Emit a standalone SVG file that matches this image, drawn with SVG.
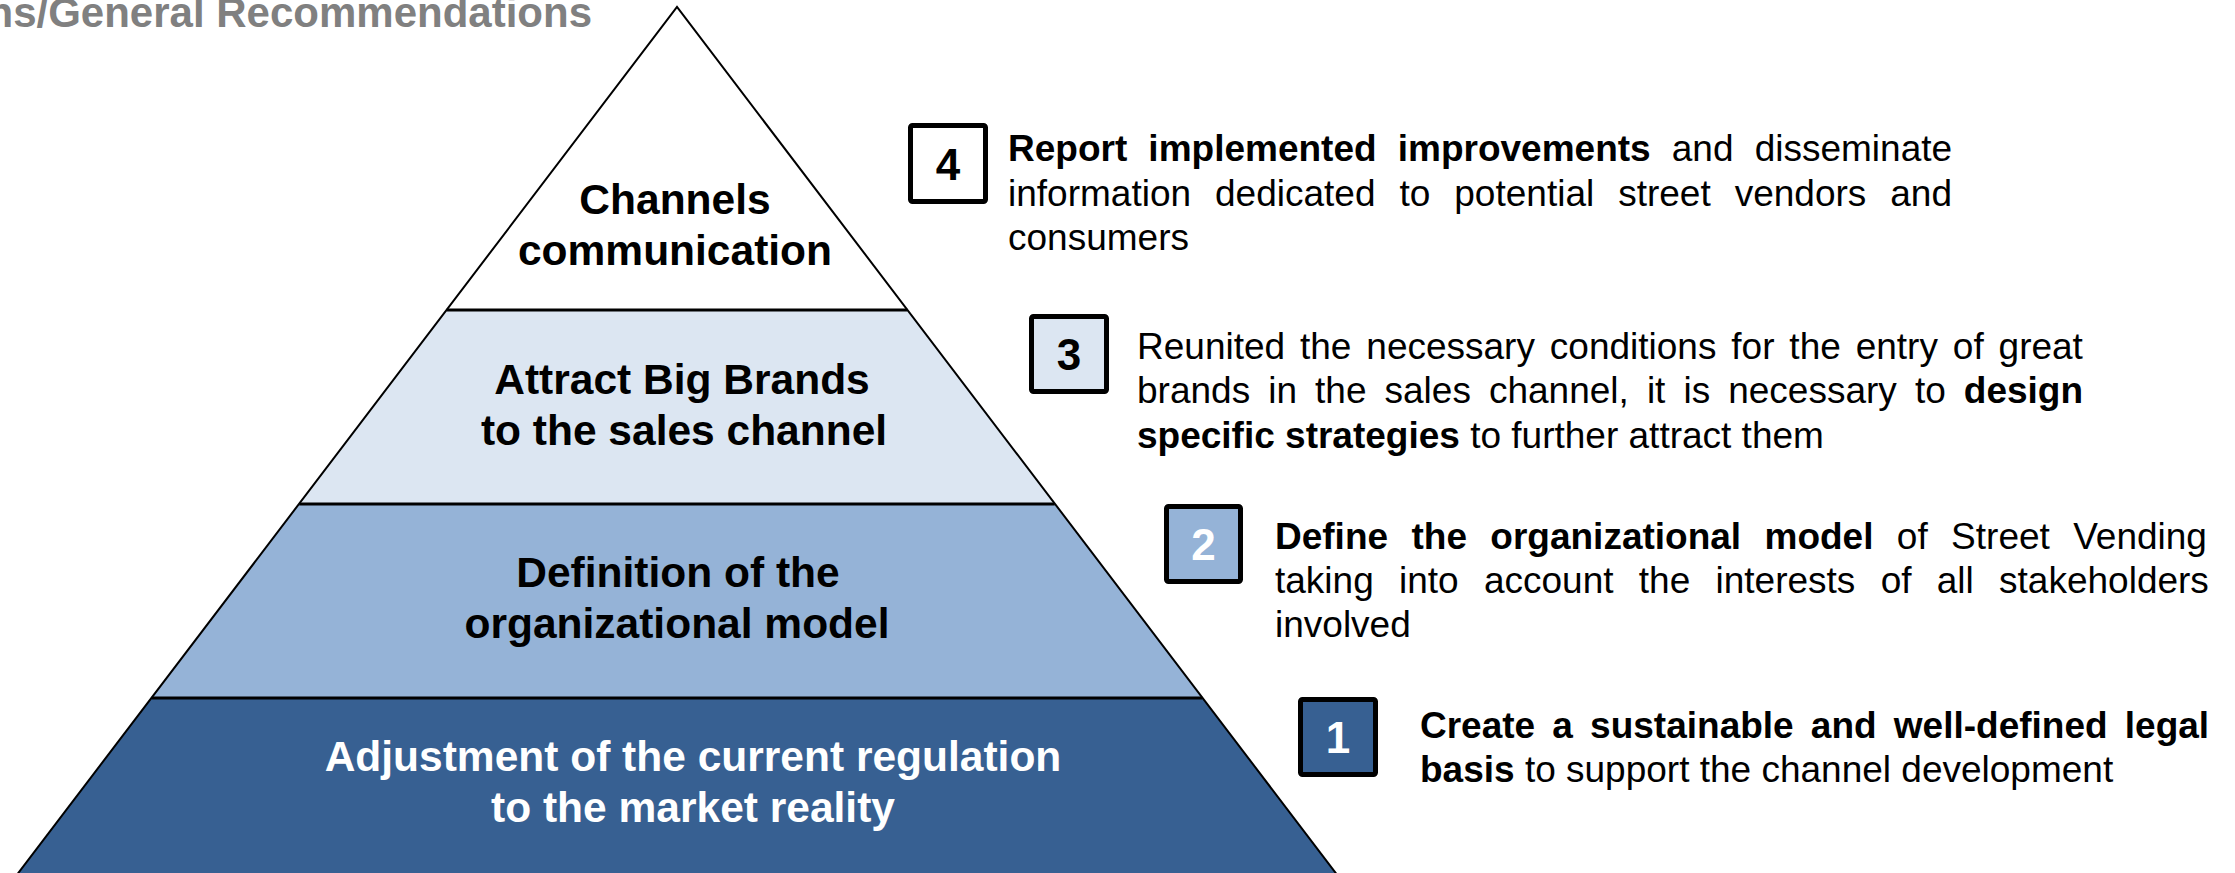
<svg xmlns="http://www.w3.org/2000/svg" width="2235" height="873" viewBox="0 0 2235 873">
<style>
.lbl{font-family:"Liberation Sans",Arial,sans-serif;font-weight:bold;font-size:42.5px;text-anchor:middle}
.num{font-family:"Liberation Sans",Arial,sans-serif;font-weight:bold;font-size:44px;text-anchor:middle}
.body{font-family:"Liberation Sans",Arial,sans-serif;font-size:37px;fill:#000}
.b{font-weight:bold}
.box{stroke:#000;stroke-width:5}
.tierline{stroke:#000;stroke-width:3}
</style>
<rect width="2235" height="873" fill="#fff"/>
<text x="592" y="27" style="font-family:'Liberation Sans',Arial,sans-serif;font-weight:bold;font-size:42px;fill:#808080" text-anchor="end">ns/General Recommendations</text>

<g id="tier4-top">
<polygon points="677,7 446.7,310 907.3,310" fill="#fff"/>
<text class="lbl" x="675" y="214">Channels</text>
<text class="lbl" x="675" y="265">communication</text>
</g>
<g id="tier3">
<polygon points="446.7,310 907.3,310 1054.7,504 299.3,504" fill="#DCE6F2"/>
<text class="lbl" x="682" y="394">Attract Big Brands</text>
<text class="lbl" x="684" y="445">to the sales channel</text>
</g>
<g id="tier2">
<polygon points="299.3,504 1054.7,504 1202.2,698 151.8,698" fill="#95B3D7"/>
<text class="lbl" x="678" y="587">Definition of the</text>
<text class="lbl" x="677" y="638">organizational model</text>
</g>
<g id="tier1">
<polygon points="151.8,698 1202.2,698 1337,875 17,875" fill="#376092"/>
<text class="lbl" x="693" y="771" fill="#fff">Adjustment of the current regulation</text>
<text class="lbl" x="693" y="822" fill="#fff">to the market reality</text>
</g>
<g id="pyramid-lines" fill="none">
<line class="tierline" x1="446.7" y1="310" x2="907.3" y2="310"/>
<line class="tierline" x1="299.3" y1="504" x2="1054.7" y2="504"/>
<line class="tierline" x1="151.8" y1="698" x2="1202.2" y2="698"/>
<polyline points="16,876 677,7 1338,876" stroke="#000" stroke-width="2" stroke-linejoin="miter"/>
</g>

<g id="item4">
<rect class="box" x="910.5" y="125.5" width="75" height="76" rx="2" fill="#fff"/>
<text class="num" x="948" y="180">4</text>
<text class="body" x="1008" y="161" word-spacing="10.86"><tspan class="b">Report implemented improvements</tspan> and disseminate</text>
<text class="body" x="1008" y="206" word-spacing="13.7">information dedicated to potential street vendors and</text>
<text class="body" x="1008" y="250">consumers</text>
</g>
<g id="item3">
<rect class="box" x="1031.5" y="316.5" width="75" height="75" rx="2" fill="#DCE6F2"/>
<text class="num" x="1069" y="370">3</text>
<text class="body" x="1137" y="359" word-spacing="4.6">Reunited the necessary conditions for the entry of great</text>
<text class="body" x="1137" y="403" word-spacing="7.77">brands in the sales channel, it is necessary to <tspan class="b">design</tspan></text>
<text class="body" x="1137" y="448"><tspan class="b">specific strategies</tspan> to further attract them</text>
</g>
<g id="item2">
<rect class="box" x="1166.5" y="506.5" width="74" height="75" rx="2" fill="#95B3D7"/>
<text class="num" x="1203.5" y="560" fill="#fff">2</text>
<text class="body" x="1275" y="549" word-spacing="13.1"><tspan class="b">Define the organizational model</tspan> of Street Vending</text>
<text class="body" x="1275" y="593" word-spacing="15.0">taking into account the interests of all stakeholders</text>
<text class="body" x="1275" y="637">involved</text>
</g>
<g id="item1">
<rect class="box" x="1300.5" y="699.5" width="75" height="75" rx="2" fill="#376092"/>
<text class="num" x="1338" y="753" fill="#fff">1</text>
<text class="body" x="1420" y="738" word-spacing="6.9"><tspan class="b">Create a sustainable and well-defined legal</tspan></text>
<text class="body" x="1420" y="782"><tspan class="b">basis</tspan> to support the channel development</text>
</g>
<g id="connectors"/>
</svg>
